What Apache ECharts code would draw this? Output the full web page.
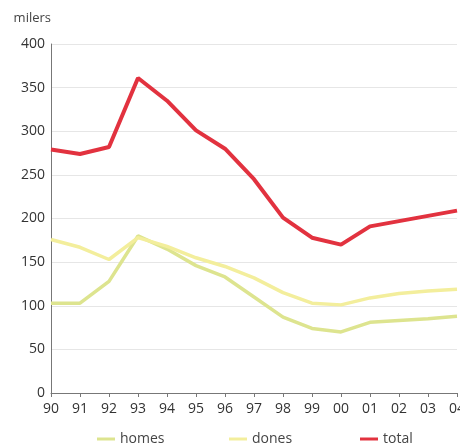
<!DOCTYPE html>
<html><head><meta charset="utf-8">
<script src="https://cdn.jsdelivr.net/npm/echarts@6/dist/echarts.min.js"></script>
<style>html,body{margin:0;padding:0;background:#fff}#c{width:460px;height:445px}</style>
</head><body><div id="c"></div>
<script>
const years = ['90','91','92','93','94','95','96','97','98','99','00','01','02','03','04'];
const homes = [103,103,128,180,165,146,133,110,87,74,70,81,83,85,88];
const dones = [176,167,153,178,168,155,145,132,115,103,101,109,114,117,119];
const total = [279,274,282,361,335,301,280,245,201,178,170,191,197,203,209];
const yTitle = 'milers';

const font = '"Open Sans", sans-serif';
const cHomes = '#dde48f', cDones = '#f3ee9c', cTotal = '#e2323f';
const chart = echarts.init(document.getElementById('c'), null, {renderer:'canvas'});
function leg(name, left){
  return {data:[name], left:left, top:427, icon:'rect', itemWidth:18, itemHeight:3, itemGap:0,
    textStyle:{fontFamily:font, fontSize:14, color:'#444'}, selectedMode:false};
}
chart.setOption({
  backgroundColor:'#fff',
  animation:false,
  grid:{left:51, right:3, top:44, bottom:52, outerBoundsMode:'none', containLabel:false},
  legend:[leg('homes',92), leg('dones',224), leg('total',355)],
  xAxis:{type:'category', data:years, boundaryGap:false,
    axisLine:{lineStyle:{color:'#777', width:1}},
    axisTick:{show:true, length:4, lineStyle:{color:'#777'}},
    axisLabel:{fontFamily:font, fontSize:14, color:'#333', margin:9},
    splitLine:{show:false}},
  yAxis:{type:'value', min:0, max:400, interval:50, name:yTitle,
    nameLocation:'end', nameGap:19,
    nameTextStyle:{fontFamily:font, fontSize:13, color:'#444', align:'right', padding:[0,0,0,0]},
    axisLine:{show:true, lineStyle:{color:'#777'}},
    axisTick:{show:false},
    axisLabel:{fontFamily:font, fontSize:14, color:'#333', margin:6},
    splitLine:{lineStyle:{color:'#e6e6e6', width:1}}},
  series:[
    {name:'homes', type:'line', data:homes, symbol:'none', lineStyle:{color:cHomes, width:3.5}, itemStyle:{color:cHomes}},
    {name:'dones', type:'line', data:dones, symbol:'none', lineStyle:{color:cDones, width:3.5}, itemStyle:{color:cDones}},
    {name:'total', type:'line', data:total, symbol:'none', lineStyle:{color:cTotal, width:4}, itemStyle:{color:cTotal}}
  ]
});
</script></body></html>
